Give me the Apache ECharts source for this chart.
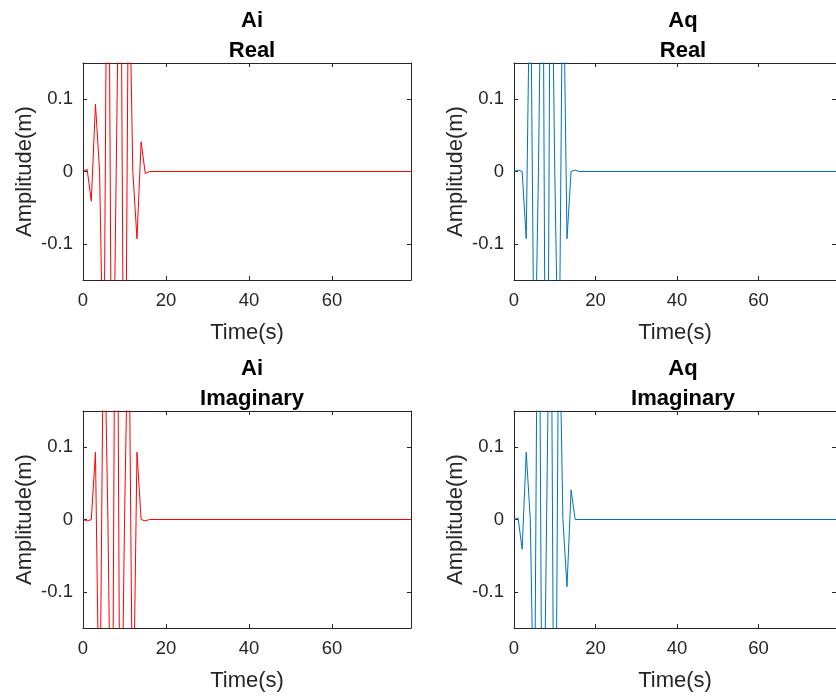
<!DOCTYPE html>
<html>
<head>
<meta charset="utf-8">
<script src="https://cdn.jsdelivr.net/npm/echarts@6/dist/echarts.min.js"></script>
<style>
html,body{margin:0;padding:0;background:#fff;}
#chart{width:836px;height:697px;}
</style>
</head>
<body>
<div id="chart"></div>
<script>
// sample times (s); signal is flat zero after t=16 up to the end of the record
var time   = [0, 1, 2, 3, 4, 5, 6, 7, 8, 9, 10, 11, 12, 13, 14, 15, 16, 79];
var aiReal = [0, 0.003, -0.041, 0.093, 0, -0.33, 0.56, -0.46, 0, 0.46, -0.56, 0.33, 0, -0.093, 0.041, -0.003, 0, 0];
var aiImag = [0, -0.002, 0, 0.093, -0.33, 0.33, 0, -0.46, 0.7, -0.46, 0, 0.33, -0.33, 0.093, 0, -0.002, 0, 0];
var aqReal = [0, 0.002, 0, -0.093, 0.33, -0.33, 0, 0.46, -0.7, 0.46, 0, -0.33, 0.33, -0.093, 0, 0.002, 0, 0];
var aqImag = [0, 0.002, -0.041, 0.093, 0, -0.33, 0.56, -0.46, 0, 0.46, -0.56, 0.33, 0, -0.093, 0.041, 0, 0, 0];

var xTicks = [0, 20, 40, 60];
var yTicks = [-0.1, 0, 0.1];
var xMin = 0, xMax = 79;
var yMin = -0.15, yMax = 0.15;

var panels = [
    {title: 'Ai\nReal',      values: aiReal, color: '#ff0000', left: 83,  top: 63},
    {title: 'Aq\nReal',      values: aqReal, color: '#0072bd', left: 514, top: 63},
    {title: 'Ai\nImaginary', values: aiImag, color: '#ff0000', left: 83,  top: 411},
    {title: 'Aq\nImaginary', values: aqImag, color: '#0072bd', left: 514, top: 411}
];

var font = "'Liberation Sans', Arial, Helvetica, sans-serif";
var ink = '#262626';
var plotW = 328, plotH = 217;

var option = {
    animation: false,
    backgroundColor: '#fff',
    title: [], grid: [], xAxis: [], yAxis: [], series: []
};

for (var i = 0; i < panels.length; ++i) {
    var p = panels[i];
    option.title.push({
        text: p.title,
        left: p.left + plotW / 2,
        top: p.top - 62,
        textAlign: 'center',
        textStyle: {fontFamily: font, fontSize: 22, fontWeight: 'bold', color: '#000', lineHeight: 30}
    });
    option.grid.push({left: p.left, top: p.top, width: plotW, height: plotH});

    // bottom x axis with labels
    option.xAxis.push({
        type: 'value', gridIndex: i, min: xMin, max: xMax, position: 'bottom',
        name: 'Time(s)', nameLocation: 'middle', nameGap: 42,
        nameTextStyle: {fontFamily: font, fontSize: 22, color: ink},
        axisLine: {onZero: false, lineStyle: {color: ink, width: 1}},
        axisTick: {inside: true, length: 4, customValues: xTicks, lineStyle: {color: ink}},
        axisLabel: {customValues: xTicks, margin: 11, fontFamily: font, fontSize: 18.5, color: ink},
        splitLine: {show: false}
    });
    // top box edge
    option.xAxis.push({
        type: 'value', gridIndex: i, min: xMin, max: xMax, position: 'top',
        axisLine: {onZero: false, lineStyle: {color: ink, width: 1}},
        axisTick: {inside: true, length: 4, customValues: xTicks, lineStyle: {color: ink}},
        axisLabel: {show: false}, splitLine: {show: false}
    });
    option.yAxis.push({
        type: 'value', gridIndex: i, min: yMin, max: yMax, position: 'left',
        name: 'Amplitude(m)', nameLocation: 'middle', nameGap: 47,
        nameTextStyle: {fontFamily: font, fontSize: 22, color: ink},
        axisLine: {onZero: false, lineStyle: {color: ink, width: 1}},
        axisTick: {inside: true, length: 4, customValues: yTicks, lineStyle: {color: ink}},
        axisLabel: {customValues: yTicks, margin: 10, fontFamily: font, fontSize: 18.5, color: ink},
        splitLine: {show: false}
    });
    // right box edge
    option.yAxis.push({
        type: 'value', gridIndex: i, min: yMin, max: yMax, position: 'right',
        axisLine: {onZero: false, lineStyle: {color: ink, width: 1}},
        axisTick: {inside: true, length: 4, customValues: yTicks, lineStyle: {color: ink}},
        axisLabel: {show: false}, splitLine: {show: false}
    });

    var pts = [];
    for (var j = 0; j < time.length; ++j) {
        pts.push([time[j], p.values[j]]);
    }
    option.series.push({
        type: 'line', xAxisIndex: i * 2, yAxisIndex: i * 2,
        data: pts, showSymbol: false, clip: true,
        lineStyle: {color: p.color, width: 1}
    });
}

var myChart = echarts.init(document.getElementById('chart'));
myChart.setOption(option);
</script>
</body>
</html>
